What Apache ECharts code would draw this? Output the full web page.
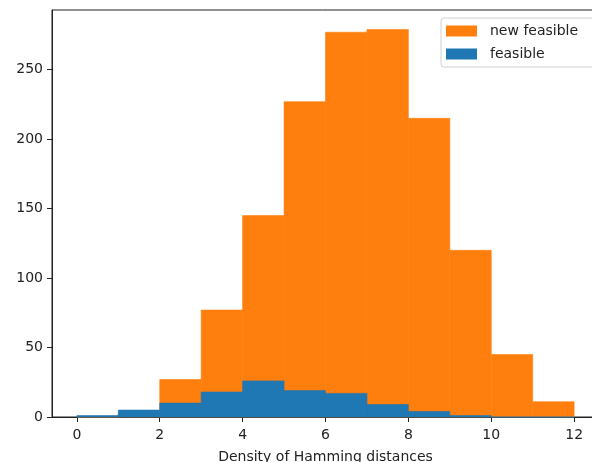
<!DOCTYPE html>
<html>
<head>
<meta charset="utf-8">
<script src="https://cdn.jsdelivr.net/npm/echarts@6/dist/echarts.min.js"></script>
<style>
  html, body { margin: 0; padding: 0; background: #fff; }
  #chart { width: 592px; height: 462px; }
</style>
</head>
<body>
<div id="chart"></div>
<script>
// histogram bins (left edges, width 1)
const binStarts = [0, 1, 2, 3, 4, 5, 6, 7, 8, 9, 10, 11]
const newFeasible = [0, 3, 27, 77, 145, 227, 277, 279, 215, 120, 45, 11]
const feasible = [1, 5, 10, 18, 26, 19, 17, 9, 4, 1, 0, 0]
const xTicks = [0, 2, 4, 6, 8, 10, 12]
const yTicks = [0, 50, 100, 150, 200, 250]

const textColor = '#222'
const font = 'DejaVu Sans'

function toBins(values) {
  return binStarts.map((s, i) => [s, s + 1, values[i]])
}

// draws one histogram rectangle from [start, end, count]
function renderBin(params, api) {
  const p0 = api.coord([api.value(0), api.value(2)])
  const p1 = api.coord([api.value(1), 0])
  const color = api.visual('color')
  return {
    type: 'rect',
    shape: { x: p0[0], y: p0[1], width: p1[0] - p0[0], height: p1[1] - p0[1] },
    style: { fill: color, stroke: color, lineWidth: 0.6 },
  }
}

const chart = echarts.init(document.getElementById('chart'))

chart.setOption({
  animation: false,
  grid: {
    left: 52,
    right: -7,
    top: 10,
    bottom: 45,
    outerBoundsMode: 'none',
    show: true,
    borderColor: '#222',
    borderWidth: 1,
  },
  legend: {
    orient: 'vertical',
    left: 441,
    top: 18,
    padding: [6, 16, 6, 5],
    itemWidth: 31,
    itemHeight: 11,
    itemGap: 9,
    icon: 'rect',
    borderColor: '#d0d0d0',
    borderWidth: 1,
    borderRadius: 3,
    backgroundColor: 'rgba(255,255,255,0.8)',
    textStyle: { color: textColor, fontFamily: font, fontSize: 14, padding: [0, 0, 0, 8] },
    data: ['new feasible', 'feasible'],
  },
  xAxis: {
    type: 'value',
    min: -0.6,
    max: 12.6,
    name: 'Density of Hamming distances',
    nameLocation: 'middle',
    nameGap: 33,
    nameTextStyle: { color: textColor, fontFamily: font, fontSize: 14 },
    splitLine: { show: false },
    axisLine: { show: true, onZero: false, lineStyle: { color: '#222' } },
    axisTick: { show: true, length: 5, customValues: xTicks, lineStyle: { color: '#222' } },
    axisLabel: {
      customValues: xTicks,
      margin: 11,
      color: textColor,
      fontFamily: font,
      fontSize: 14,
    },
  },
  yAxis: {
    type: 'value',
    min: 0,
    max: 293,
    splitLine: { show: false },
    axisLine: { show: true, onZero: false, lineStyle: { color: '#222' } },
    axisTick: { show: true, length: 5, customValues: yTicks, lineStyle: { color: '#222' } },
    axisLabel: {
      customValues: yTicks,
      margin: 9,
      color: textColor,
      fontFamily: font,
      fontSize: 14,
    },
  },
  series: [
    {
      name: 'new feasible',
      type: 'custom',
      color: '#ff7f0e',
      renderItem: renderBin,
      encode: { x: [0, 1], y: 2 },
      data: toBins(newFeasible),
    },
    {
      name: 'feasible',
      type: 'custom',
      color: '#1f77b4',
      renderItem: renderBin,
      encode: { x: [0, 1], y: 2 },
      data: toBins(feasible),
    },
  ],
})
</script>
</body>
</html>
